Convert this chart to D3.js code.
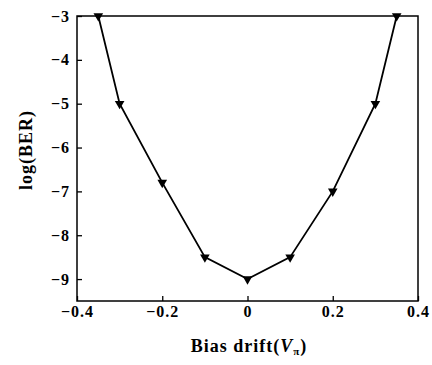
<!DOCTYPE html>
<html>
<head>
<meta charset="utf-8">
<title>log(BER) vs bias drift</title>
<script src="https://cdn.jsdelivr.net/npm/d3@7"></script>
<style>
  body { margin: 0; background: #fff; }
  text { font-family: "Liberation Serif", "Times New Roman", serif; }
</style>
</head>
<body>
<script>
// data
var drift = [-0.35, -0.3, -0.2, -0.1, 0, 0.1, 0.2, 0.3, 0.35]
var logBER = [-3, -5, -6.8, -8.5, -9, -8.5, -7, -5, -3]
var xTicks = [-0.4, -0.2, 0, 0.2, 0.4]
var yTicks = [-3, -4, -5, -6, -7, -8, -9]

var w = 432, h = 365
var m = {left: 77, right: 14, top: 16, bottom: 64}

var svg = d3.select("body").append("svg").attr("width", w).attr("height", h)

var x = d3.scaleLinear().domain([-0.4, 0.4]).range([m.left, w - m.right])
var y = d3.scaleLinear().domain([-9.5, -3]).range([h - m.bottom, m.top])

var data = drift.map(function(d, i) { return {x: d, y: logBER[i]} })

// axes, ticks point inward
var fmt = function(d) { return d === 0 ? "0" : d3.format(".1f")(d).replace("-", "\u2212") }
svg.append("g").attr("transform", "translate(0," + (h - m.bottom) + ")")
  .call(d3.axisBottom(x).tickValues(xTicks).tickSizeInner(-5).tickSizeOuter(0).tickPadding(5).tickFormat(fmt))
svg.append("g").attr("transform", "translate(" + m.left + ",0)")
  .call(d3.axisLeft(y).tickValues(yTicks).tickSizeInner(-5).tickSizeOuter(0).tickPadding(7)
    .tickFormat(function(d) { return String(d).replace("-", "\u2212") }))

svg.selectAll(".domain").remove()
svg.selectAll(".tick line").attr("stroke", "#000").attr("stroke-width", 1.3)
svg.selectAll(".tick text").attr("fill", "#000").style("font-size", "16px").style("font-weight", "bold")
  .style("letter-spacing", "1px")
  .style("font-family", "Liberation Serif, serif")

// frame
svg.append("rect")
  .attr("x", m.left).attr("y", m.top)
  .attr("width", w - m.left - m.right).attr("height", h - m.top - m.bottom)
  .attr("fill", "none").attr("stroke", "#000").attr("stroke-width", 1.5)

// line
var line = d3.line().x(function(d) { return x(d.x) }).y(function(d) { return y(d.y) })
svg.append("path").datum(data).attr("d", line)
  .attr("fill", "none").attr("stroke", "#000").attr("stroke-width", 1.8)

// down triangle markers
var tri = d3.symbol().type(d3.symbolTriangle).size(40)
svg.selectAll(".mk").data(data).enter().append("path")
  .attr("class", "mk")
  .attr("d", tri)
  .attr("transform", function(d) { return "translate(" + x(d.x) + "," + y(d.y) + ") rotate(180)" })
  .attr("fill", "#000")

// axis labels
var xl = svg.append("text")
  .attr("x", 249).attr("y", 352)
  .attr("text-anchor", "middle")
  .style("font-size", "18px").style("font-weight", "bold").style("letter-spacing", "1px")
xl.append("tspan").text("Bias drift(")
xl.append("tspan").style("font-style", "italic").text("V")
xl.append("tspan").attr("dy", 3).style("font-size", "11px").text("\u03c0")
xl.append("tspan").attr("dy", -3).text(")")

svg.append("text")
  .attr("transform", "translate(32,150) rotate(-90)")
  .attr("text-anchor", "middle")
  .style("font-size", "18px").style("font-weight", "bold").style("letter-spacing", "1px")
  .text("log(BER)")
</script>
</body>
</html>
